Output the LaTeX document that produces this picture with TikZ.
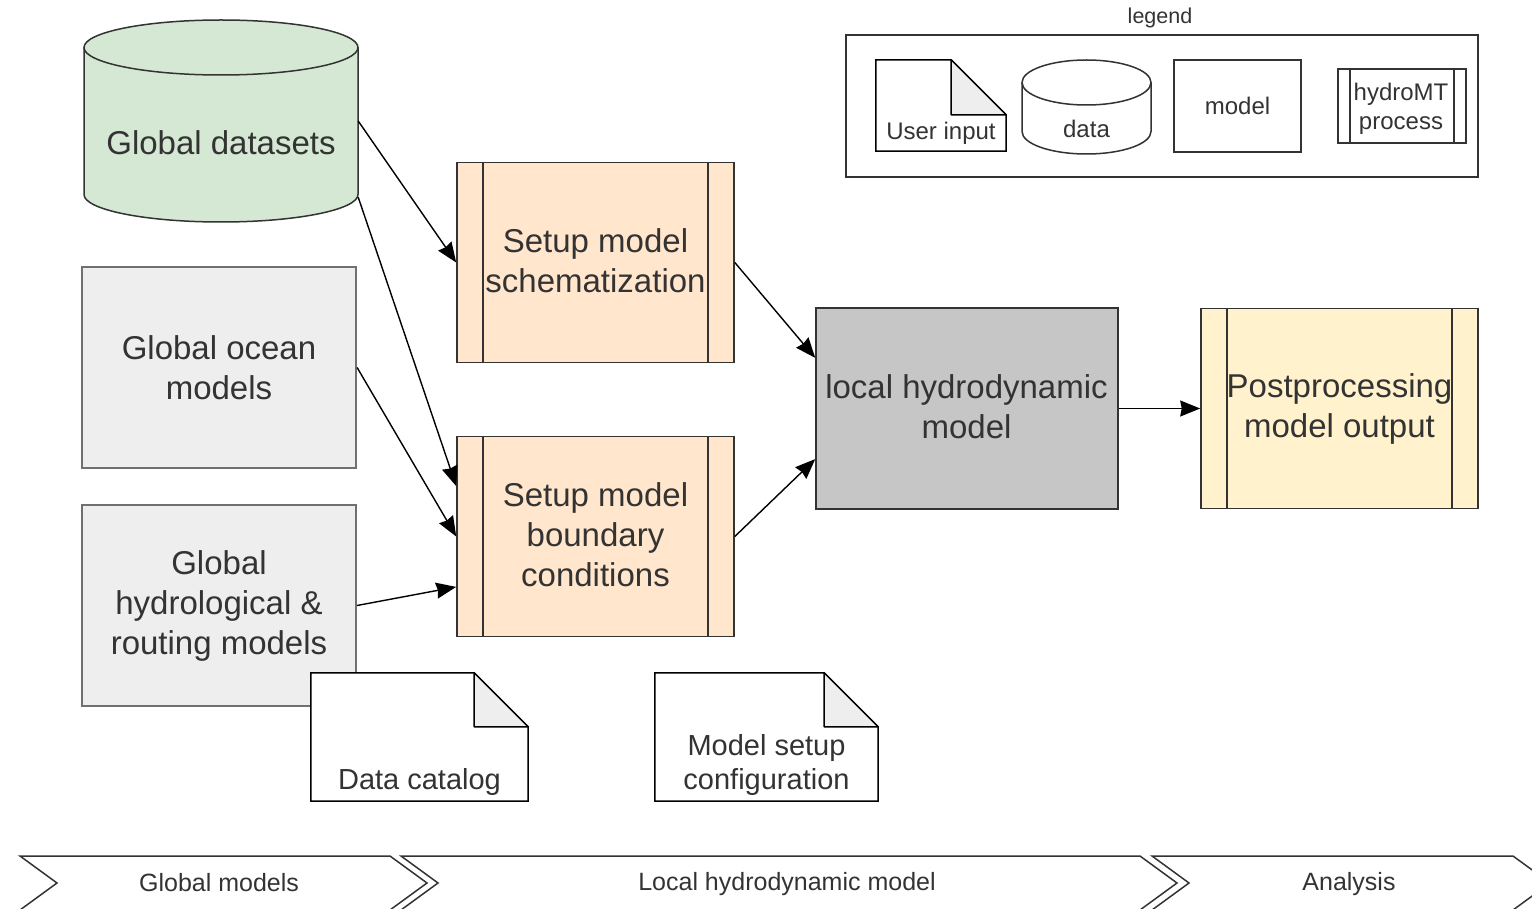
\documentclass[tikz,border=0pt]{standalone}
\usepackage{fontspec}
\setmainfont{Liberation Sans}
\usetikzlibrary{arrows.meta,calc}

\definecolor{greenfill}{HTML}{D5E8D4}
\definecolor{greyfill}{HTML}{EEEEEE}
\definecolor{greyline}{HTML}{707070}
\definecolor{procfill}{HTML}{FFE6CC}
\definecolor{postfill}{HTML}{FFF2CC}
\definecolor{modelfill}{HTML}{C6C6C6}
\definecolor{ink}{HTML}{333333}
\definecolor{foldfill}{HTML}{EEEEEE}

\newcommand\txtmain{\fontsize{33}{40}\selectfont}
\newcommand\txtnote{\fontsize{29}{34}\selectfont}
\newcommand\txtleg{\fontsize{24}{29}\selectfont}
\newcommand\txttitle{\fontsize{21.5}{26}\selectfont}
\newcommand\txtband{\fontsize{25}{30}\selectfont}

% note shape (page with folded corner) drawn round an empty node
\newcommand\drawnote[2]{%
  \filldraw[fill=white, draw=black, line width=1.5pt]
    (#1.north west) -- ([xshift=-#2]#1.north east) -- ([yshift=-#2]#1.north east)
    -- (#1.south east) -- (#1.south west) -- cycle;
  \filldraw[fill=foldfill, draw=black, line width=1.5pt, line join=round]
    ([xshift=-#2]#1.north east) -- ([xshift=-#2,yshift=-#2]#1.north east)
    -- ([yshift=-#2]#1.north east) -- cycle;}

% the two inner side bars of a process box
\newcommand\procbars[2]{%
  \draw[ink, line width=1.6pt] ([xshift=#2]#1.north west) -- ([xshift=#2]#1.south west);
  \draw[ink, line width=1.6pt] ([xshift=-#2]#1.north east) -- ([xshift=-#2]#1.south east);}

\begin{document}
\begin{tikzpicture}[x=1pt, y=-1pt,
  basebox/.style={rectangle, inner sep=0pt, align=center, text=ink, font=\txtmain},
  globalbox/.style={basebox, draw=greyline, line width=2.2pt, fill=greyfill,
    minimum width=274pt, minimum height=201pt},
  procbox/.style={basebox, draw=ink, line width=1.6pt, fill=procfill,
    minimum width=277pt, minimum height=200pt},
  modelbox/.style={basebox, draw=ink, line width=1.6pt, fill=modelfill,
    minimum width=302pt, minimum height=201pt},
  holder/.style={rectangle, inner sep=0pt, draw=none},
  notetext/.style={text=ink, font=\txtnote, align=center, inner sep=0pt},
  legtext/.style={text=ink, font=\txtleg, align=center, inner sep=0pt},
  bandtext/.style={text=ink, font=\txtband, inner sep=0pt},
  band/.style={draw=ink, line width=1.5pt, line join=miter},
  conn/.style={draw=black, line width=1.4pt,
    -{Stealth[length=20pt, width=16pt, inset=1.5pt]}},
]
\useasboundingbox (0,0) rectangle (1532,909);
\clip (0,0) rectangle (1532,909);

% ---------- global datasets (cylinder) ----------
\node[holder, minimum width=274pt, minimum height=202pt] (gd) at (221,121) {};
\fill[greenfill] (84,47.5) -- (84,194.5) arc[start angle=180, end angle=0, x radius=137, y radius=27.5]
  -- (358,47.5) arc[start angle=0, end angle=-180, x radius=137, y radius=27.5] -- cycle;
\draw[ink, line width=1.5pt] (84,47.5) -- (84,194.5) arc[start angle=180, end angle=0, x radius=137, y radius=27.5]
  -- (358,47.5);
\draw[ink, line width=1.5pt] (221,47.5) ellipse[x radius=137, y radius=27.5];
\node[text=ink, font=\txtmain, inner sep=0pt] (gdtext) at (221,143) {Global datasets};

% ---------- global model boxes ----------
\node[globalbox] (go) at (219,367.5) {Global ocean\\models};
\node[globalbox] (hy) at (219,605.5) {Global\\hydrological \&\\routing models};

% ---------- hydroMT processes ----------
\node[procbox] (sch) at (595.5,262.5) {};
\procbars{sch}{27}
\node[text=ink, font=\txtmain, align=center, inner sep=0pt] (schtext) at (595.5,260.5) {Setup model\\schematization};
\node[procbox] (bc) at (595.5,536.5) {};
\procbars{bc}{27}
\node[text=ink, font=\txtmain, align=center, inner sep=0pt] (bctext) at (595.5,535) {Setup model\\boundary\\conditions};

% ---------- local model and postprocessing ----------
\node[modelbox] (lh) at (967,408.5) {};
\node[text=ink, font=\txtmain, align=center, inner sep=0pt] (lhtext) at (966.5,407) {local hydrodynamic\\model};
\node[procbox, fill=postfill] (pp) at (1339.5,408.5) {};
\procbars{pp}{27}
\node[text=ink, font=\txtmain, align=center, inner sep=0pt] (pptext) at (1339.5,408.5) {Postprocessing\\model output};

% ---------- user input files ----------
\node[holder, minimum width=217pt, minimum height=128pt] (dc) at (419.5,737) {};
\drawnote{dc}{54}
\node[notetext] (dctext) at (419.5,782) {Data catalog};

\node[holder, minimum width=223pt, minimum height=128pt] (cfg) at (766.5,737) {};
\drawnote{cfg}{54}
\node[notetext] (cfgtext) at (766.5,765) {Model setup\\configuration};

% ---------- connectors ----------
\draw[conn] (gd.east) -- (sch.west);
\draw[conn] ($(gd.south east)+(0,-25)$) -- ($(bc.north west)!0.25!(bc.south west)$);
\draw[conn] (go.east) -- (bc.west);
\draw[conn] (hy.east) -- ($(bc.north west)!0.75!(bc.south west)$);
\draw[conn] (sch.east) -- ($(lh.north west)!0.25!(lh.south west)$);
\draw[conn] (bc.east) -- ($(lh.north west)!0.75!(lh.south west)$);
\draw[conn] (lh.east) -- (pp.west);

% ---------- legend ----------
\node[text=ink, font=\txttitle, inner sep=0pt] (legtitle) at (1160,18) {legend};
\node[holder, draw=ink, line width=1.5pt, minimum width=632pt, minimum height=142pt] (legbox) at (1162,106) {};

\node[holder, minimum width=130pt, minimum height=91pt] (lgnote) at (941,105.5) {};
\drawnote{lgnote}{55}
\node[legtext] (lgnotetext) at (941,133) {User input};

\node[holder, minimum width=129pt, minimum height=94pt] (lgdata) at (1086.5,107) {};
\draw[ink, line width=1.5pt, fill=white] (1022,82.5) -- (1022,131.5) arc[start angle=180, end angle=0, x radius=64.5, y radius=22.5]
  -- (1151,82.5);
\draw[ink, line width=1.5pt] (1086.5,82.5) ellipse[x radius=64.5, y radius=22.5];
\node[legtext] (lgdatatext) at (1086.5,129) {data};

\node[holder, draw=ink, line width=1.5pt, minimum width=127pt, minimum height=92pt, text=ink, font=\txtleg] (lgmodel) at (1237.5,106) {model};

\node[holder, draw=ink, line width=1.5pt, minimum width=128pt, minimum height=74pt] (lgproc) at (1402,106) {};
\procbars{lgproc}{13}
\node[legtext] (lgproctext) at (1401,109) {hydroMT\\process};

% ---------- phase bands ----------
\draw[band] (20,856) -- (390,856) -- (427,883) -- (390,910) -- (20,910) -- (57,883) -- cycle;
\draw[band] (401,856) -- (1140,856) -- (1177,883) -- (1140,910) -- (401,910) -- (438,883) -- cycle;
\draw[band] (1152,856) -- (1513,856) -- (1550,883) -- (1513,910) -- (1152,910) -- (1189,883) -- cycle;
\node[bandtext] (b1) at (219,883) {Global models};
\node[bandtext] (b2) at (787,884.5) {Local hydrodynamic model};
\node[bandtext] (b3) at (1349,884.5) {Analysis};
\end{tikzpicture}
\end{document}
